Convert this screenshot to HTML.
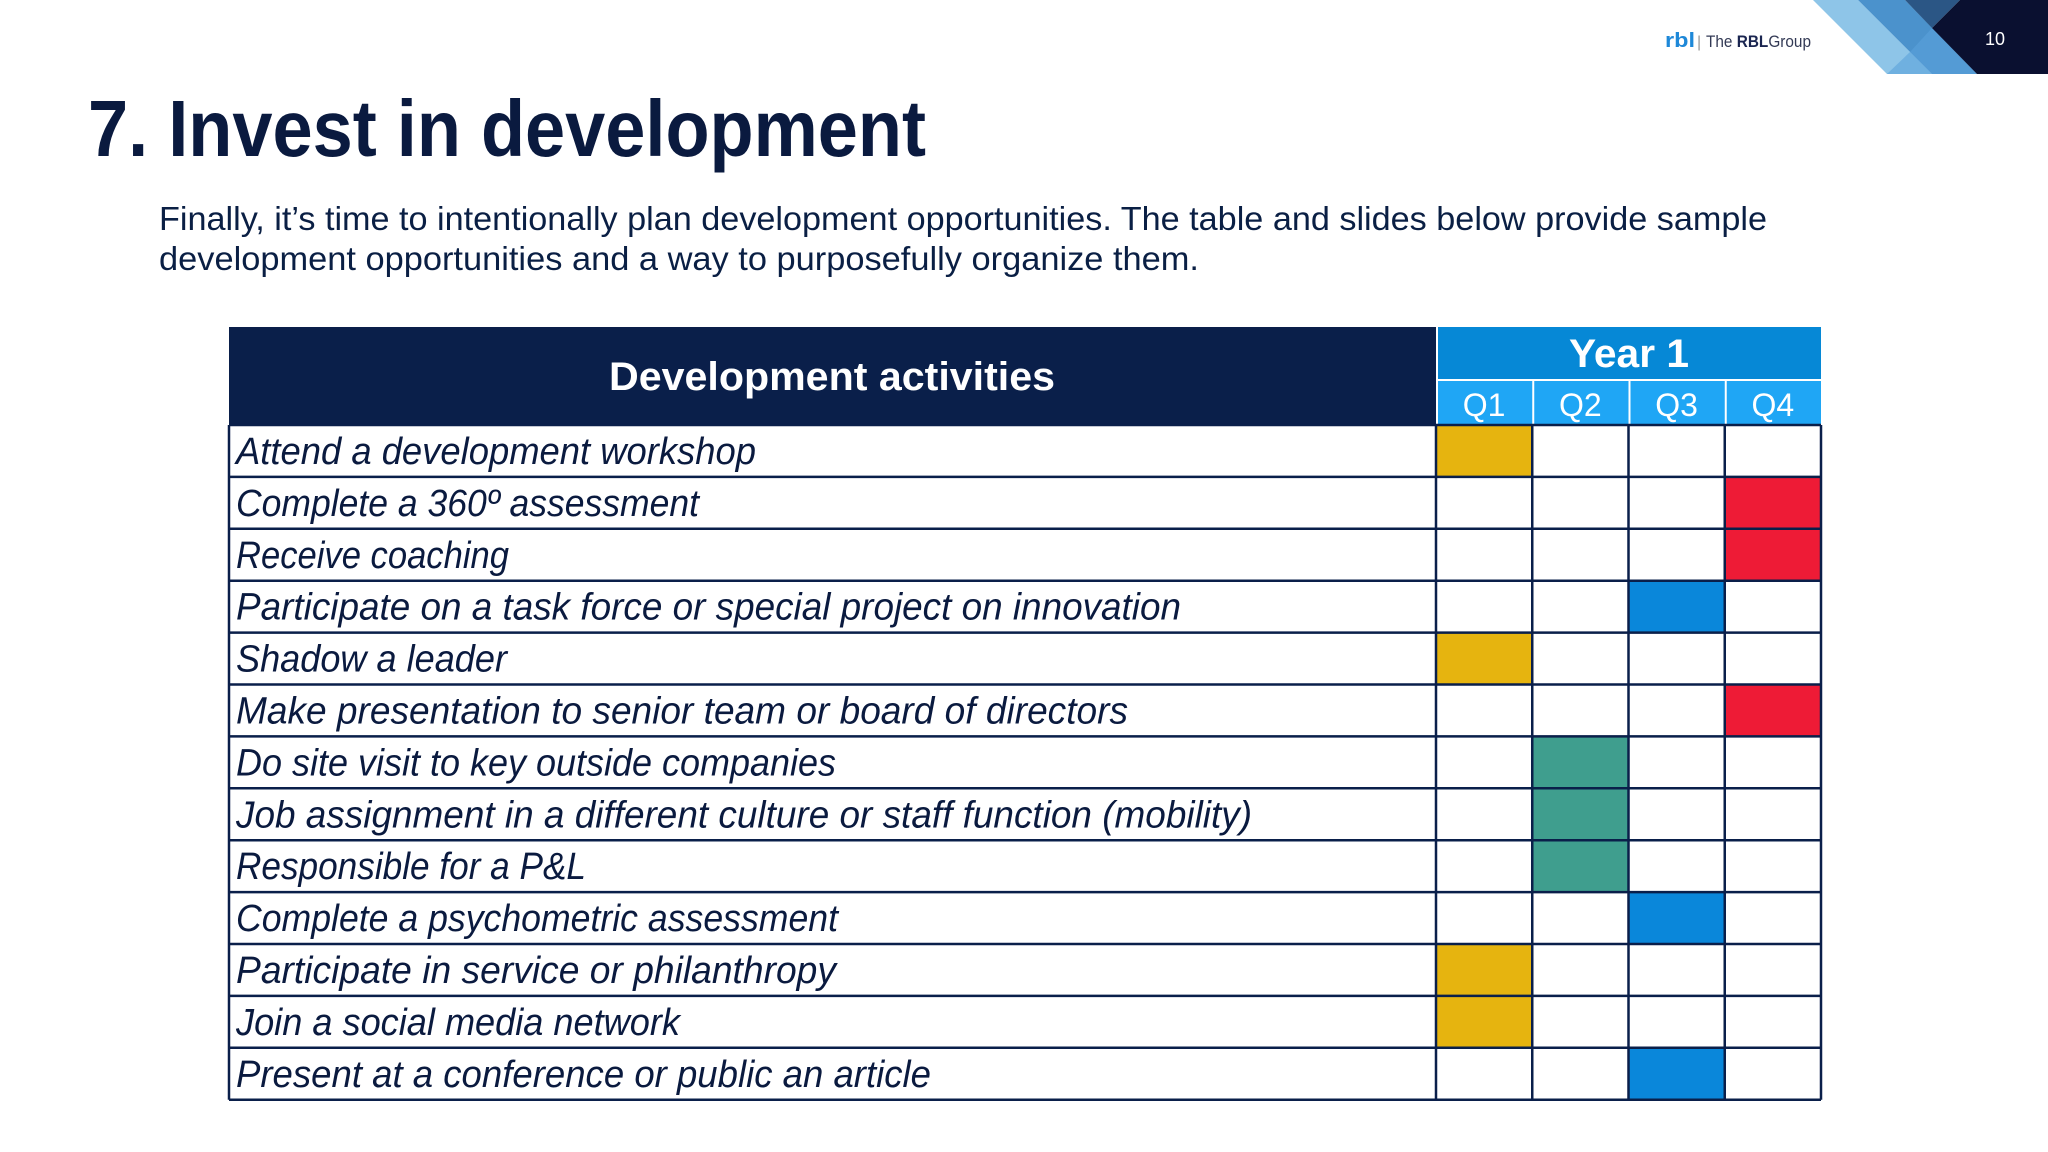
<!DOCTYPE html>
<html><head><meta charset="utf-8"><style>
html,body{margin:0;padding:0;background:#fff;}
svg{display:block;}
text{font-family:"Liberation Sans",sans-serif;}
</style></head><body>
<svg id="s" width="2048" height="1152" viewBox="0 0 2048 1152" xmlns="http://www.w3.org/2000/svg">
<rect x="0" y="0" width="2048" height="1152" fill="#fff"/>
<g>
<polygon points="1813,0 1858,0 1932,74 1887,74" fill="#8ec5e8"/>
<polygon points="1858,0 1905,0 1977,74 1932,74" fill="#4b92cc"/>
<polygon points="1905,0 1960,0 1932,28" fill="#2b5685"/>
<polygon points="1932,28 1977,74 1887,74 1910,52" fill="#5aa2da" opacity="0.6"/>
<polygon points="1960,0 2048,0 2048,74 1977,74 1932,28" fill="#0a1030"/>
</g>
<text x="1995" y="45" font-size="18" fill="#fff" text-anchor="middle">10</text>
<g>
<text x="1665" y="47" font-size="20" font-weight="bold" fill="#1e88d8" textLength="30" lengthAdjust="spacingAndGlyphs">rbl</text>
<text x="1697" y="47" font-size="16" fill="#999">|</text>
<text x="1706" y="47" font-size="17" fill="#333a55" font-family="Liberation Serif, serif" textLength="105" lengthAdjust="spacingAndGlyphs">The <tspan font-weight="bold" fill="#1a2550">RBL</tspan>Group</text>
</g>
<text x="88" y="156" font-size="80" font-weight="bold" fill="#0a1a3f" textLength="838" lengthAdjust="spacingAndGlyphs">7. Invest in development</text>
<text x="159" y="230" font-size="33" fill="#0a1f44" textLength="1608" lengthAdjust="spacingAndGlyphs">Finally, it’s time to intentionally plan development opportunities. The table and slides below provide sample</text>
<text x="159" y="270" font-size="33" fill="#0a1f44" textLength="1040" lengthAdjust="spacingAndGlyphs">development opportunities and a way to purposefully organize them.</text>
<g id="tbl">
<rect x="229" y="327" width="1207" height="98" fill="#0a1f4a"/>
<text x="832" y="390" font-size="40" font-weight="bold" fill="#fff" text-anchor="middle" textLength="446" lengthAdjust="spacingAndGlyphs">Development activities</text>
<rect x="1438" y="327" width="383" height="52" fill="#0688d6"/>
<text x="1629" y="367" font-size="40" font-weight="bold" fill="#fff" text-anchor="middle" textLength="120" lengthAdjust="spacingAndGlyphs">Year 1</text>
</g>
</svg>
<script>
const activities=["Attend a development workshop","Complete a 360º assessment","Receive coaching","Participate on a task force or special project on innovation","Shadow a leader","Make presentation to senior team or board of directors","Do site visit to key outside companies","Job assignment in a different culture or staff function (mobility)","Responsible for a P&L","Complete a psychometric assessment","Participate in service or philanthropy","Join a social media network","Present at a conference or public an article"];
const quarters=["Q1","Q2","Q3","Q4"];
const scheduledQuarter=[0,3,3,2,0,3,1,1,1,2,0,0,2];
const categoryColor=["#E6B40F","#EE1B36","#0A87DA","#3F9E8E"];
const activityCategory=[0,1,1,2,0,1,3,3,3,2,0,0,2];
const textEnds=[756,699,509,1181,507,1128,836,1252,586,838,836,680,931];
const NS="http://www.w3.org/2000/svg";
const g=document.getElementById('tbl');
const left=229,split=1436,right=1821,top0=425,rowH=51.9,qW=(right-split)/4;
const rowY=i=>top0+i*rowH;
const qX=q=>split+q*qW;
function mk(t,a){const e=document.createElementNS(NS,t);for(const k in a)e.setAttribute(k,a[k]);g.appendChild(e);return e;}
quarters.forEach((q,i)=>{
 const r=mk('rect',{x:qX(i)+2,y:381,width:qW-2,height:44,fill:'#1fa6f5'});
 
 
 const t=mk('text',{x:qX(i)+qW/2,y:416,'font-size':32,fill:'#fff','text-anchor':'middle'});
 t.textContent=q;
 
 
});
activities.forEach((a,i)=>{
 const q=scheduledQuarter[i];
 const c=mk('rect',{x:qX(q)+1,y:rowY(i),width:qW-1,height:rowH,fill:categoryColor[activityCategory[i]]});
 
 
});
for(let i=0;i<=activities.length;i++){
 const l=mk('line',{x1:left,x2:right,y1:rowY(i),y2:rowY(i),stroke:'#0a1f4a','stroke-width':2.5});
 
 
}
[left,split,qX(1),qX(2),qX(3),right].forEach(x=>{
 const l=mk('line',{x1:x,x2:x,y1:top0,y2:rowY(activities.length),stroke:'#0a1f4a','stroke-width':2.5});
 
 
});
activities.forEach((a,i)=>{
 const t=mk('text',{x:236,y:rowY(i)+rowH/2+13,'font-size':38,'font-style':'italic',fill:'#0a1a3f',textLength:textEnds[i]-236,lengthAdjust:'spacingAndGlyphs'});
 t.textContent=a;
 
 
});
</script>
</body></html>
